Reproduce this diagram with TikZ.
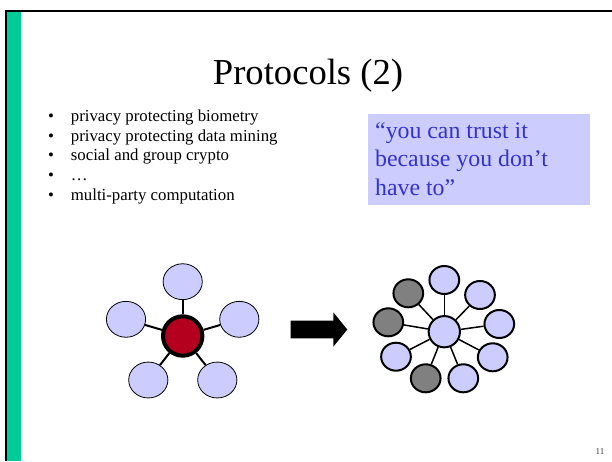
\documentclass[tikz,border=0pt]{standalone}
\usepackage{fontspec}
\setmainfont{Liberation Serif}
\usetikzlibrary{shapes.geometric}
\definecolor{bargreen}{RGB}{0,204,153}
\definecolor{satblue}{RGB}{204,204,255}
\definecolor{hubred}{RGB}{180,0,30}
\definecolor{quoteblue}{RGB}{51,51,204}
\definecolor{satgray}{RGB}{128,128,128}
\begin{document}
\begin{tikzpicture}[x=1pt,y=-1pt,
  bullettext/.style={anchor=base west, inner sep=0pt, font=\fontsize{16.8}{20}\selectfont},
  bulletdot/.style={anchor=base, inner sep=0pt, font=\fontsize{16.8}{20}\selectfont},
  quotetext/.style={anchor=base west, inner sep=0pt, text=quoteblue, font=\fontsize{23.8}{28}\selectfont},
  hubL/.style={circle, draw=black, fill=hubred, line width=4pt, minimum size=39.4pt, inner sep=0pt},
  satL/.style={ellipse, draw=black, fill=satblue, line width=0.8pt, minimum width=39.2pt, minimum height=35.9pt, inner sep=0pt},
  linkL/.style={line width=2pt},
  hubR/.style={circle, draw=black, fill=satblue, line width=2pt, minimum size=31.3pt, inner sep=0pt},
  satR/.style={ellipse, draw=black, fill=satblue, line width=2pt, minimum width=29.7pt, minimum height=28pt, inner sep=0pt},
  satRg/.style={satR, fill=satgray},
  linkR/.style={line width=1.5pt}]
\useasboundingbox (0,0) rectangle (612,461);
\fill[white] (0,0) rectangle (612,461);
% slide frame
\fill[bargreen] (7,11) rectangle (21,461);
\draw[line width=2.2pt] (6,461) -- (6,11) -- (612,11);
% title
\node[anchor=base, inner sep=0pt, font=\fontsize{36.6}{44}\selectfont] (title) at (308,84) {Protocols (2)};
% bullets
\node[bulletdot] (d1) at (51,121) {•};
\node[bullettext] (b1) at (70.7,121) {privacy protecting biometry};
\node[bulletdot] (d2) at (51,141) {•};
\node[bullettext] (b2) at (70.7,141) {privacy protecting data mining};
\node[bulletdot] (d3) at (51,160.5) {•};
\node[bullettext] (b3) at (70.7,160.5) {social and group crypto};
\node[bulletdot] (d4) at (51,180.5) {•};
\node[bullettext] (b4) at (70.7,180.5) {…};
\node[bulletdot] (d5) at (51,200.5) {•};
\node[bullettext] (b5) at (70.7,200.5) {multi-party computation};
% quote box
\node[fill=satblue, inner sep=0pt, minimum width=222pt, minimum height=91pt, anchor=north west] (qbox) at (368,114) {};
\node[quotetext] (q1) at (375,138.5) {“you can trust it};
\node[quotetext] (q2) at (375,166.8) {because you don’t};
\node[quotetext] (q3) at (375,195.1) {have to”};
% left cluster
\node[hubL] (L) at (182.7,336) {};
\node[satL] (L1) at (182.7,281.7) {};
\node[satL] (L2) at (126,319.3) {};
\node[satL] (L3) at (239.3,319.3) {};
\node[satL] (L4) at (148.3,380) {};
\node[satL] (L5) at (217.3,380) {};
\foreach \s in {L1,L2,L3,L4,L5} \draw[linkL] (L) -- (\s);
% block arrow
\fill[black] (290.7,320.7) -- (333.3,320.7) -- (333.3,312.3) -- (347.3,329.5) -- (333.3,346.7) -- (333.3,338.3) -- (290.7,338.3) -- cycle;
% right cluster
\node[hubR] (R) at (444.3,331.7) {};
\node[satR] (R1) at (444.3,280) {};
\node[satR] (R2) at (480,295) {};
\node[satR] (R3) at (499.3,324) {};
\node[satR] (R4) at (492.7,357.3) {};
\node[satR] (R5) at (463.3,378.3) {};
\node[satRg] (R6) at (425.7,378.3) {};
\node[satR] (R7) at (396,356.7) {};
\node[satRg] (R8) at (388.3,322.3) {};
\node[satRg] (R9) at (408.3,293.3) {};
\foreach \s in {R1,R2,R3,R4,R5,R6,R7,R8,R9} \draw[linkR] (R) -- (\s);
% page number
\node[inner sep=0pt, text=black!75, font=\fontsize{9}{10}\selectfont] (pnum) at (600,452) {11};
\end{tikzpicture}
\end{document}
